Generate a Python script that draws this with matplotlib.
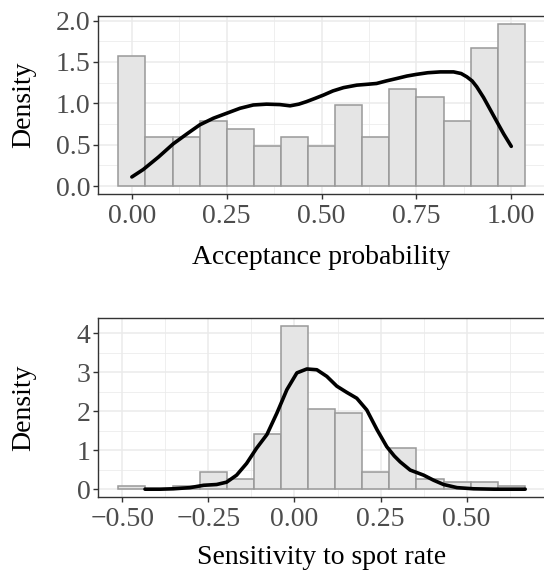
import matplotlib
matplotlib.use("Agg")
import matplotlib.pyplot as plt
import numpy as np
from matplotlib.ticker import MultipleLocator

plt.rcParams['font.family'] = ['Liberation Serif', 'DejaVu Serif']
plt.rcParams['axes.unicode_minus'] = True

# ---------------- data ----------------
# Panel 1: acceptance probability histogram (15 bins, width 1/14, centred on k/14)
acc_counts = [16, 6, 6, 8, 7, 5, 6, 5, 10, 6, 12, 11, 8, 17, 20]
acc_binwidth = 1 / 14
acc_first_center = 0.0
acc_kde_x = [0.000, 0.030, 0.070, 0.109, 0.145, 0.179, 0.215, 0.250, 0.285, 0.320,
             0.355, 0.390, 0.417, 0.440, 0.460, 0.483, 0.505, 0.530, 0.558, 0.593,
             0.620, 0.645, 0.670, 0.698, 0.725, 0.750, 0.780, 0.813, 0.848, 0.868,
             0.883, 0.897, 0.909, 0.927, 0.945, 0.963, 0.980, 1.000]
acc_kde_y = [0.11, 0.20, 0.35, 0.51, 0.63, 0.74, 0.82, 0.88, 0.94, 0.98,
             0.99, 0.985, 0.97, 0.99, 1.02, 1.06, 1.10, 1.15, 1.19, 1.22,
             1.23, 1.24, 1.27, 1.30, 1.33, 1.35, 1.37, 1.38, 1.38, 1.36,
             1.32, 1.27, 1.20, 1.07, 0.92, 0.77, 0.63, 0.48]

# Panel 2: sensitivity to spot rate histogram (15 bins, centred on multiples of width)
sens_counts = [1, 0, 1, 5, 3, 16, 47, 23, 22, 5, 12, 3, 2, 2, 1]
sens_binwidth = 0.0787
sens_first_center = -6 * 0.0787
sens_kde_x = [-0.434, -0.390, -0.352, -0.303, -0.264, -0.226, -0.197, -0.168, -0.139, -0.110,
              -0.080, -0.051, -0.022, 0.007, 0.036, 0.065, 0.094, 0.123, 0.152, 0.181,
              0.210, 0.240, 0.268, 0.290, 0.307, 0.336, 0.375, 0.404, 0.433, 0.472,
              0.520, 0.580, 0.670]
sens_kde_y = [0.00, 0.00, 0.01, 0.04, 0.10, 0.12, 0.18, 0.36, 0.66, 1.05,
              1.40, 1.95, 2.55, 2.98, 3.08, 3.06, 2.89, 2.64, 2.48, 2.33,
              2.03, 1.52, 1.09, 0.85, 0.70, 0.49, 0.36, 0.23, 0.12, 0.04,
              0.01, 0.00, 0.00]

acc_xticks = [0.0, 0.25, 0.5, 0.75, 1.0]
acc_xticklabels = ["0.00", "0.25", "0.50", "0.75", "1.00"]
acc_yticks = [0.0, 0.5, 1.0, 1.5, 2.0]
acc_yticklabels = ["0.0", "0.5", "1.0", "1.5", "2.0"]
sens_xticks = [-0.5, -0.25, 0.0, 0.25, 0.5]
sens_xticklabels = ["\u22120.50", "\u22120.25", "0.00", "0.25", "0.50"]
sens_yticks = [0, 1, 2, 3, 4]
sens_yticklabels = ["0", "1", "2", "3", "4"]

# ---------------- style ----------------
FILL = "#E5E5E5"
EDGE = "#999999"
GRID = "#EBEBEB"
BORDER = "#333333"
TICKTXT = "#4D4D4D"
FS = 20

fig = plt.figure(figsize=(5.44, 5.71), dpi=100)
ax1 = fig.add_axes([0.1801, 0.660, 0.822, 0.312])
ax2 = fig.add_axes([0.1801, 0.129, 0.822, 0.314])


def draw(ax, counts, w, c0, kx, ky, xt, xtl, yt, ytl, xminor, yminor, xlabel,
         xlabelpad, ylabelpad):
    counts = np.array(counts, dtype=float)
    n = counts.sum()
    dens = counts / (n * w)
    centers = c0 + np.arange(len(counts)) * w
    ax.bar(centers, dens, width=w, color=FILL, edgecolor=EDGE, linewidth=1.1, zorder=2)
    ax.plot(kx, ky, color="black", linewidth=2.6, solid_capstyle="round",
            solid_joinstyle="round", zorder=3)
    lo, hi = centers[0] - w / 2, centers[-1] + w / 2
    pad = 0.05 * (hi - lo)
    ax.set_xlim(lo - pad, hi + pad)
    ymax = dens.max()
    ax.set_ylim(-0.05 * ymax, ymax * 1.05)
    ax.set_xticks(xt)
    ax.set_xticklabels(xtl)
    ax.set_yticks(yt)
    ax.set_yticklabels(ytl)
    ax.xaxis.set_minor_locator(MultipleLocator(xminor))
    ax.yaxis.set_minor_locator(MultipleLocator(yminor))
    ax.grid(which="major", color=GRID, linewidth=1.1)
    ax.grid(which="minor", color=GRID, linewidth=0.55)
    ax.set_axisbelow(True)
    for s in ax.spines.values():
        s.set_color(BORDER)
        s.set_linewidth(1.0)
    ax.tick_params(which="major", length=3.5, width=1.0, color=BORDER,
                   labelcolor=TICKTXT, labelsize=FS, pad=2)
    ax.tick_params(axis="x", which="major", pad=3.5)
    ax.tick_params(which="minor", length=0)
    ax.set_xlabel(xlabel, fontsize=FS, color="black", labelpad=xlabelpad)
    ax.set_ylabel("Density", fontsize=FS, color="black", labelpad=ylabelpad)


draw(ax1, acc_counts, acc_binwidth, acc_first_center, acc_kde_x, acc_kde_y,
     acc_xticks, acc_xticklabels, acc_yticks, acc_yticklabels, 0.125, 0.25,
     "Acceptance probability", 11.5, 14)
draw(ax2, sens_counts, sens_binwidth, sens_first_center, sens_kde_x, sens_kde_y,
     sens_xticks, sens_xticklabels, sens_yticks, sens_yticklabels, 0.125, 0.5,
     "Sensitivity to spot rate", 9.0, 29)

fig.savefig("out.png", dpi=100)
